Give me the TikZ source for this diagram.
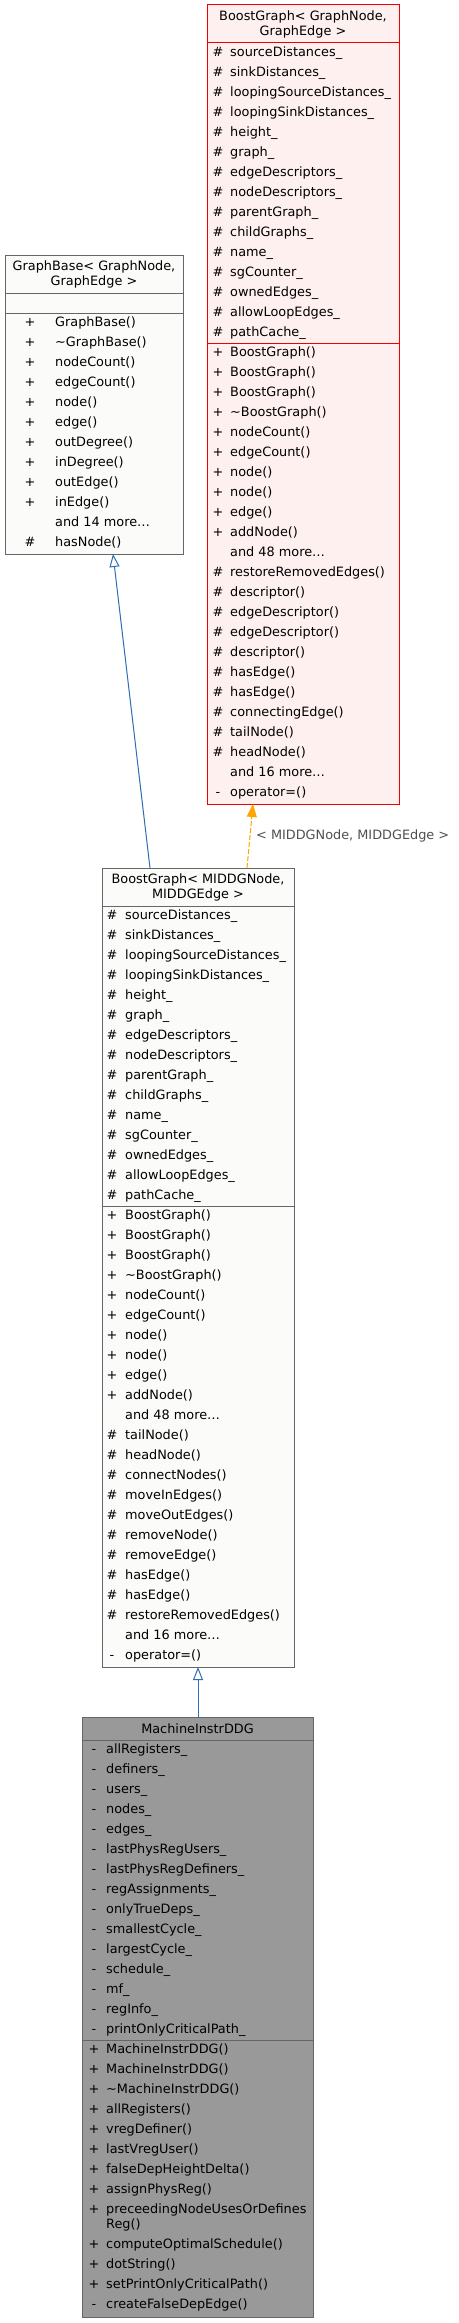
\documentclass[tikz,border=0pt]{standalone}
\usepackage{fontspec}
\setmainfont{DejaVu Sans}
\usetikzlibrary{arrows.meta,calc}
\definecolor{redb}{HTML}{F00000}
\definecolor{pinkf}{HTML}{FFF0F0}
\definecolor{greyb}{HTML}{666666}
\definecolor{lightf}{HTML}{FBFCFA}
\definecolor{curf}{HTML}{999999}
\definecolor{inhblue}{HTML}{2F6DB5}
\definecolor{tmplorange}{HTML}{FFA500}
\definecolor{lblgrey}{HTML}{505050}
\newcommand\mkrows[5]{%
  \foreach [count=\i from 0] \s/\t in {#5} {%
    \node[symtxt] (#1s\i) at (#2, #4+20*\i) {\s};
    \node[nametxt] (#1t\i) at (#3, #4+20*\i) {\t};
  }}
\begin{document}
\begin{tikzpicture}[x=1pt,y=-1pt,
  font=\fontsize{12.85}{15}\selectfont,
  classbox/.style={rectangle, inner sep=0pt, outer sep=0pt, line width=1pt},
  symtxt/.style={anchor=base, inner sep=0pt},
  nametxt/.style={anchor=base west, inner sep=0pt},
  titletxt/.style={anchor=base, inner sep=0pt},
  sepline/.style={line width=1pt},
  inh/.style={draw=inhblue, line width=1pt, -{Triangle[length=13pt,width=10pt,fill=white]}},
  tmpl/.style={draw=tmplorange, line width=1pt, dash pattern=on 5pt off 2pt,
     -{Triangle[length=13pt,width=10pt,fill=tmplorange]}},
]
\useasboundingbox (0,0) rectangle (458,2323);
\fill[white] (0,0) rectangle (458,2323);

% ---------- BoostGraph< GraphNode, GraphEdge > ----------
\node[classbox, draw=redb, fill=pinkf, minimum width=192pt, minimum height=799pt] (bg) at (303,404.5) {};
\node[titletxt] (bgT1) at (303,20.7) {BoostGraph< GraphNode,};
\node[titletxt] (bgT2) at (303,35.7) {GraphEdge >};
\draw[sepline, redb] (207,43) -- (399,43);
\draw[sepline, redb] (207,343) -- (399,343);
\mkrows{bgA}{218}{230}{56.5}{\#/sourceDistances\_,\#/sinkDistances\_,\#/loopingSourceDistances\_,\#/loopingSinkDistances\_,\#/height\_,\#/graph\_,\#/edgeDescriptors\_,\#/nodeDescriptors\_,\#/parentGraph\_,\#/childGraphs\_,\#/name\_,\#/sgCounter\_,\#/ownedEdges\_,\#/allowLoopEdges\_,\#/pathCache\_}
\mkrows{bgM}{218}{230}{356.5}{+/BoostGraph(),+/BoostGraph(),+/BoostGraph(),+/\textasciitilde BoostGraph(),+/nodeCount(),+/edgeCount(),+/node(),+/node(),+/edge(),+/addNode(),{}/and 48 more\dots,\#/restoreRemovedEdges(),\#/descriptor(),\#/edgeDescriptor(),\#/edgeDescriptor(),\#/descriptor(),\#/hasEdge(),\#/hasEdge(),\#/connectingEdge(),\#/tailNode(),\#/headNode(),{}/and 16 more\dots,-/operator=()}

% ---------- GraphBase< GraphNode, GraphEdge > ----------
\node[classbox, draw=greyb, fill=lightf, minimum width=178pt, minimum height=299pt] (gb) at (94,404.5) {};
\node[titletxt] (gbT1) at (94,270.7) {GraphBase< GraphNode,};
\node[titletxt] (gbT2) at (94,285.7) {GraphEdge >};
\draw[sepline, greyb] (5,293) -- (183,293);
\draw[sepline, greyb] (5,313) -- (183,313);
\mkrows{gbM}{30}{55}{326.5}{+/GraphBase(),+/\textasciitilde GraphBase(),+/nodeCount(),+/edgeCount(),+/node(),+/edge(),+/outDegree(),+/inDegree(),+/outEdge(),+/inEdge(),{}/and 14 more\dots,\#/hasNode()}

% ---------- BoostGraph< MIDDGNode, MIDDGEdge > ----------
\node[classbox, draw=greyb, fill=lightf, minimum width=192pt, minimum height=799pt] (mid) at (198,1267.5) {};
\node[titletxt] (midT1) at (198,883.7) {BoostGraph< MIDDGNode,};
\node[titletxt] (midT2) at (198,898.7) {MIDDGEdge >};
\draw[sepline, greyb] (102,906) -- (294,906);
\draw[sepline, greyb] (102,1206) -- (294,1206);
\mkrows{midA}{112}{125}{919.5}{\#/sourceDistances\_,\#/sinkDistances\_,\#/loopingSourceDistances\_,\#/loopingSinkDistances\_,\#/height\_,\#/graph\_,\#/edgeDescriptors\_,\#/nodeDescriptors\_,\#/parentGraph\_,\#/childGraphs\_,\#/name\_,\#/sgCounter\_,\#/ownedEdges\_,\#/allowLoopEdges\_,\#/pathCache\_}
\mkrows{midM}{112}{125}{1219.5}{+/BoostGraph(),+/BoostGraph(),+/BoostGraph(),+/\textasciitilde BoostGraph(),+/nodeCount(),+/edgeCount(),+/node(),+/node(),+/edge(),+/addNode(),{}/and 48 more\dots,\#/tailNode(),\#/headNode(),\#/connectNodes(),\#/moveInEdges(),\#/moveOutEdges(),\#/removeNode(),\#/removeEdge(),\#/hasEdge(),\#/hasEdge(),\#/restoreRemovedEdges(),{}/and 16 more\dots,-/operator=()}

% ---------- MachineInstrDDG ----------
\node[classbox, draw=greyb, fill=curf, minimum width=231pt, minimum height=600pt] (mi) at (197.5,2017) {};
\node[titletxt] (miT) at (197.5,1733.5) {MachineInstrDDG};
\draw[sepline, greyb] (82,1740) -- (313,1740);
\draw[sepline, greyb] (82,2040) -- (313,2040);
\mkrows{miA}{94}{106}{1753.5}{-/allRegisters\_,-/definers\_,-/users\_,-/nodes\_,-/edges\_,-/lastPhysRegUsers\_,-/lastPhysRegDefiners\_,-/regAssignments\_,-/onlyTrueDeps\_,-/smallestCycle\_,-/largestCycle\_,-/schedule\_,-/mf\_,-/regInfo\_,-/printOnlyCriticalPath\_}
\mkrows{miM}{94}{106}{2053.5}{+/MachineInstrDDG(),+/MachineInstrDDG(),+/\textasciitilde MachineInstrDDG(),+/allRegisters(),+/vregDefiner(),+/lastVregUser(),+/falseDepHeightDelta(),+/assignPhysReg(),+/preceedingNodeUsesOrDefines}
\node[nametxt] (miMreg) at (106,2228.5) {Reg()};
\mkrows{miN}{94}{106}{2248.5}{+/computeOptimalSchedule(),+/dotString(),+/setPrintOnlyCriticalPath(),-/createFalseDepEdge()}

% ---------- connectors ----------
\draw[inh] ([xshift=-48pt]mid.north) -- ([xshift=19pt]gb.south);
\draw[tmpl] ([xshift=49pt]mid.north) -- ([xshift=-50pt]bg.south);
\node[anchor=base west, inner sep=0pt, text=lblgrey] (tmplLbl) at (256,839.5) {< MIDDGNode, MIDDGEdge >};
\draw[inh] ([xshift=0.5pt]mi.north) -- (mid.south);
\end{tikzpicture}
\end{document}
